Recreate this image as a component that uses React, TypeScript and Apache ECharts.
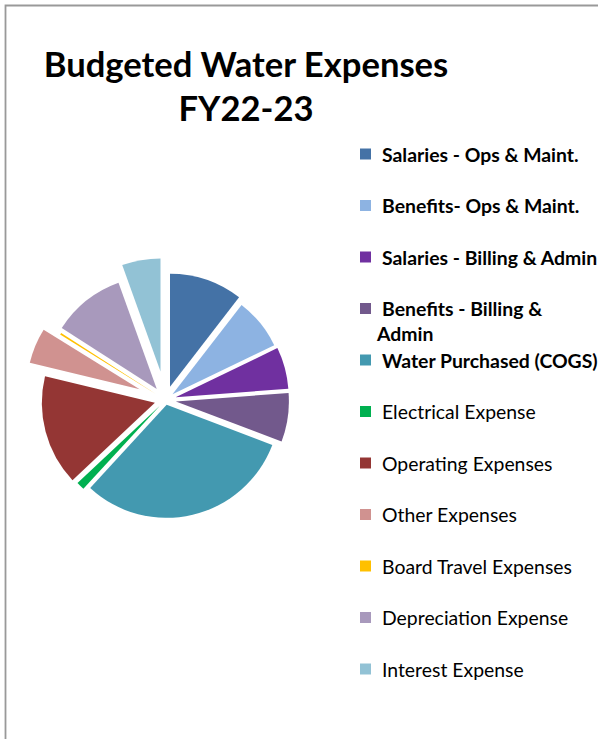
import React, { useEffect, useRef } from "react";
import * as echarts from "echarts";

const categories = [
  "Salaries - Ops & Maint.",
  "Benefits- Ops & Maint.",
  "Salaries - Billing & Admin",
  "Benefits - Billing & Admin",
  "Water Purchased (COGS)",
  "Electrical Expense",
  "Operating Expenses",
  "Other Expenses",
  "Board Travel Expenses",
  "Depreciation Expense",
  "Interest Expense",
];

// budget amounts (thousands of $)
const values = [314, 221, 179, 209, 932, 35, 473, 152, 8, 312, 165];

const colors = [
  "#4472a6",
  "#8db3e2",
  "#7030a0",
  "#72598c",
  "#4399b0",
  "#00b050",
  "#943634",
  "#d09290",
  "#ffc000",
  "#a899bc",
  "#92c2d5",
];

// explosion distance of each slice (px)
const explode = [14, 9, 10.5, 10.5, 5, 8, 11, 28, 11, 14, 29];

const boldLegend = [true, true, true, true, true, false, false, false, false, false, false];

const FONT = "Lato, 'Open Sans', sans-serif";

export default function App() {
  const ref = useRef<HTMLDivElement>(null);

  useEffect(() => {
    if (!ref.current) return;
    const chart = echarts.init(ref.current, undefined, { renderer: "svg" });

    const uniqueOffsets = Array.from(new Set(explode));
    const series = uniqueOffsets.map((off) => ({
      type: "pie",
      center: [165.5, 400],
      radius: 113,
      startAngle: 90,
      clockwise: true,
      selectedMode: "multiple",
      selectedOffset: off,
      silent: true,
      label: { show: false },
      labelLine: { show: false },
      emphasis: { disabled: true },
      itemStyle: { borderWidth: 0 },
      data: categories.map((name, i) => {
        const mine = explode[i] === off;
        return {
          name,
          value: values[i],
          selected: mine,
          itemStyle: { color: mine ? colors[i] : "rgba(0,0,0,0)", borderWidth: 0 },
        };
      }),
    }));

    chart.setOption({
      animation: false,
      backgroundColor: "#ffffff",
      legend: {
        orient: "vertical",
        left: 360,
        top: 144,
        padding: 0,
        itemWidth: 11,
        itemHeight: 11,
        itemGap: 31.5,
        icon: "rect",
        selectedMode: false,
        formatter: (name: string) =>
          name === "Benefits - Billing & Admin" ? "Benefits - Billing &" : name,
        textStyle: {
          fontFamily: FONT,
          fontSize: 19.4,
          color: "#000",
          lineHeight: 20,
          padding: [0, 0, 0, 6],
        },
        data: categories.map((name, i) => ({
          name,
          itemStyle: { color: colors[i], opacity: 1, borderWidth: 0 },
          textStyle: { fontWeight: boldLegend[i] ? "bold" : "normal" },
        })),
      },
      graphic: [
        {
          type: "polyline",
          silent: true,
          shape: { points: [[5.5, 739], [5.5, 5.5], [598, 5.5]] },
          style: { stroke: "#999999", lineWidth: 1.8, fill: "none" },
        },
        {
          type: "text",
          x: 246,
          y: 41,
          silent: true,
          style: {
            text: "Budgeted Water Expenses\nFY22-23",
            textAlign: "center",
            textVerticalAlign: "top",
            fontFamily: FONT,
            fontWeight: "bold",
            fontSize: 34.6,
            lineHeight: 44,
            fill: "#000",
          },
        },
        {
          type: "text",
          x: 377,
          y: 333,
          silent: true,
          style: {
            text: "Admin",
            textAlign: "left",
            textVerticalAlign: "middle",
            fontFamily: FONT,
            fontWeight: "bold",
            fontSize: 19.4,
            fill: "#000",
          },
        },
      ],
      series,
    });

    return () => chart.dispose();
  }, []);

  return (
    <div
      ref={ref}
      style={{ position: "fixed", left: 0, top: 0, width: 598, height: 739 }}
    />
  );
}
